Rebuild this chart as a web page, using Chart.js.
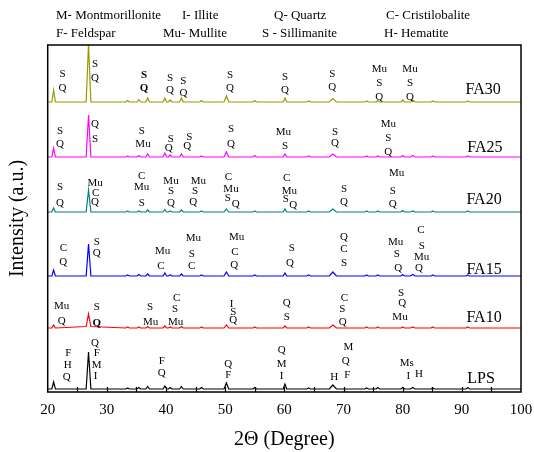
<!DOCTYPE html>
<html><head><meta charset="utf-8">
<script src="https://cdn.jsdelivr.net/npm/chart.js@4"></script>
<style>html,body{margin:0;padding:0;background:#fff}#wrap{width:534px;height:452px;position:relative}</style>
</head><body><div id="wrap"><canvas id="c" width="534" height="452"></canvas></div>
<script>
// 2-theta sampling points (degrees)
const twoTheta = [20.0,
  20.7,21.0,21.3,  26.5,26.9,27.3,  33.2,33.5,33.8,  35.1,35.4,35.7,  36.6,36.9,37.2,
  39.5,39.8,40.1,  40.4,40.7,41.0,  42.3,42.6,42.9,  45.7,46.0,46.3,  49.8,50.2,50.6,
  54.7,55.0,55.3,  59.8,60.1,60.4,  63.8,64.1,64.4,  67.6,68.2,68.8,  73.6,73.9,74.2,
  75.5,75.8,76.1,  79.7,80.0,80.3,  81.3,81.7,82.1,  84.8,85.1,85.4,  90.7,91.0,91.3,
  100.0];
// intensities (a.u.) above each pattern's own baseline
const FA30 = [0, 0,12,0, 0,58,0, 0,1.5,0, 0,2.5,0, 0,4,0, 0,4,0, 0,2,0, 0,4,0, 0,1.5,0, 0,6,0,
  0,1.5,0, 0,4,0, 0,1,0, 0,3.5,0, 0,1,0, 0,1.5,0, 0,2,0, 0,2,0, 0,1,0, 0,1,0, 0];
const FA25 = [0, 0,9,0, 0,42,0, 0,1,0, 0,1.5,0, 0,3,0, 0,4,0, 0,2,0, 0,3,0, 0,1,0, 0,5,0,
  0,1.5,0, 0,3,0, 0,1,0, 0,3,0, 0,1,0, 0,1,0, 0,1.5,0, 0,1.5,0, 0,1,0, 0,1,0, 0];
const FA20 = [0, 0,4,0, 0,22,0, 0,1,0, 0,1,0, 0,2,0, 0,2.5,0, 0,1,0, 0,2,0, 0,1,0, 0,3,0,
  0,1,0, 0,3,0, 0,1,0, 0,3,0, 0,1,0, 0,1,0, 0,1.5,0, 0,1,0, 0,1,0, 0,1,0, 0];
const FA15 = [0, 0,6,0, 0,32,0, 0,1,0, 0,1.5,0, 0,2,0, 0,3,0, 0,1,0, 0,2,0, 0,1,0, 0,4,0,
  0,1,0, 0,3,0, 0,1,0, 0,4,0, 0,1,0, 0,1,0, 0,1.5,0, 0,1.5,0, 0,1,0, 0,1,0, 0];
const FA10 = [0, 0,3,0, 1.5,14,1.5, 0,1,0, 0,1,0, 0,1.5,0, 0,2,0, 0,1,0, 0,1.5,0, 0,1,0, 0,3,0,
  0,1,0, 0,2,0, 0,1,0, 0,3,0, 0,1,0, 0,1,0, 0,1,0, 0,1,0, 0,1,0, 0,1,0, 0];
const LPS = [0, 0,7,0, 0,37,0, 0,1,0, 0,1.5,0, 0,2.5,0, 0,3,0, 0,1.5,0, 0,2.5,0, 0,1.5,0, 0,6,0,
  0,1.5,0, 0,5,0, 0,1,0, 0,4,0, 0,1,0, 0,1.5,0, 0,1.5,0, 0,1.5,0, 0,1,0, 0,1.5,0, 0];

const seriesNames = ['FA30','FA25','FA20','FA15','FA10','LPS'];
const seriesValues = [FA30, FA25, FA20, FA15, FA10, LPS];
const stackOffsets = [290, 235, 180, 116, 64, 3];
const seriesColors = ['#999900','#ff00ff','#008080','#0000ff','#ff0000','#000000'];

const xTickValues = [20,30,40,50,60,70,80,90,100];
const tickMarkValues = [25,30,35,40,45,50,55,60,65,70,75,80,85,90,95];

// key of mineral codes (two rows)
const keyRows = [
  ['M- Montmorillonite','I- Illite','Q- Quartz','C- Cristilobalite'],
  ['F- Feldspar','Mu- Mullite','S - Sillimanite','H- Hematite']
];

// series name labels [2theta, level, text]
const seriesLabels = [
  [93.6,302,'FA30'],[93.9,244,'FA25'],[93.75,192,'FA20'],[93.75,122,'FA15'],[93.75,74,'FA10'],[93.25,13,'LPS']
];

// peak phase labels [2theta, level, text, bold]
const peakLabels = [
  // FA30
  [22.5,317.7,'S'],[22.5,304.3,'Q'],
  [28.0,328,'S'],[28.0,313.7,'Q'],
  [36.3,317.3,'S',1],[36.3,303.7,'Q',1],
  [40.67,313.7,'S'],[40.67,302,'Q'],
  [42.93,311.3,'S'],[42.93,298.7,'Q'],
  [50.82,317,'S'],[50.82,303.7,'Q'],
  [60.11,314.7,'S'],[60.11,302,'Q'],
  [68.11,318,'S'],[68.11,305.3,'Q'],
  [76.05,322.7,'Mu'],[76.05,309.3,'S'],[76.05,295.3,'Q'],
  [81.24,322.7,'Mu'],[81.24,309.3,'S'],[81.24,294.7,'Q'],
  // FA25
  [22.08,261,'S'],[22.08,247.7,'Q'],
  [28.0,268,'Q'],[28.0,252.7,'S'],
  [35.89,261.3,'S'],[36.11,247.7,'Mu'],
  [40.79,252.7,'S'],[40.45,244.3,'Q'],
  [43.94,254.7,'S'],[43.6,246,'Q'],
  [50.98,262.7,'S'],[50.98,248,'Q'],
  [59.82,260.3,'Mu'],[60.11,245.5,'S'],
  [68.56,260.3,'S'],[68.56,248.7,'Q'],
  [77.57,268,'Mu'],[77.57,254.3,'S'],[77.57,240.3,'Q'],
  // FA20
  [22.08,205.3,'S'],[22.08,188.7,'Q'],
  [28.0,208.7,'Mu'],[28.11,198.7,'C'],[28.0,189.7,'Q'],
  [35.89,216.3,'C'],[35.89,204.7,'Mu'],[35.89,189.3,'S'],
  [40.84,211.3,'Mu'],[40.84,201.3,'S'],[40.84,189.3,'Q'],
  [45.46,211,'Mu'],[44.9,201,'S'],[44.61,190,'Q'],
  [50.53,215.3,'C'],[50.98,202.7,'Mu'],[50.43,193.7,'S'],[51.78,188,'Q'],
  [60.4,213.7,'C'],[60.84,201.3,'Mu'],[60.23,192.7,'S'],[61.51,187,'Q'],
  [70.08,202.7,'S'],[70.08,189.7,'Q'],
  [78.99,218.7,'Mu'],[78.32,201.3,'S'],[78.32,187.7,'Q'],
  // FA15
  [22.64,144.3,'C'],[22.64,130.3,'Q'],
  [28.28,150.3,'S'],[28.28,138.7,'Q'],
  [39.44,141,'Mu'],[39.15,126,'C'],
  [44.61,153.7,'Mu'],[44.34,138,'S'],[44.34,126,'C'],
  [51.95,155.3,'Mu'],[51.66,139.7,'C'],[51.54,127,'Q'],
  [61.24,144.3,'S'],[60.96,128.7,'Q'],
  [70.08,155.3,'Q'],[70.08,142.7,'C'],[70.08,128.7,'S'],
  [78.82,150.3,'Mu'],[78.99,137.7,'S'],[79.26,124.3,'Q'],
  [83.1,162,'C'],[83.22,146,'S'],[83.22,134.7,'Mu'],[82.76,123.7,'Q'],
  // FA10
  [22.37,86,'Mu'],[22.37,71.3,'Q'],
  [28.28,84.7,'S'],[28.28,69.3,'Q',1],
  [37.29,85.3,'S'],[37.41,70.3,'Mu'],
  [41.81,94.3,'C'],[41.52,83,'S'],[41.64,70.3,'Mu'],
  [51.1,88,'I'],[51.37,80,'S'],[51.37,72,'Q'],
  [60.4,88.7,'Q'],[60.4,75.3,'S'],
  [70.14,94.3,'C'],[69.8,82.7,'S'],[69.87,70.3,'Q'],
  [79.72,98.7,'S'],[79.94,88.7,'Q'],[79.55,75.3,'Mu'],
  // LPS
  [23.48,38.7,'F'],[23.38,27,'H'],[23.21,15.3,'Q'],
  [28.0,49.3,'Q'],[28.28,38.7,'F'],[28.28,27,'M'],[28.11,16,'I'],
  [39.27,31,'F'],[39.27,18.7,'Q'],
  [50.53,28,'Q'],[50.53,17,'F'],
  [59.55,42,'Q'],[59.55,28,'M'],[59.55,16,'I'],
  [68.44,14.7,'H'],
  [70.81,45.3,'M'],[70.37,31.3,'Q'],[70.64,17,'F'],
  [80.68,28.7,'Ms'],[80.95,16,'I'],[82.76,18,'H']
];

const SERIF = "'Liberation Serif','Times New Roman',serif";

const datasets = seriesNames.map((name, s) => ({
  label: name,
  data: twoTheta.map((t, i) => ({x: t, y: seriesValues[s][i] + stackOffsets[s]})),
  borderColor: seriesColors[s],
  borderWidth: 1.2,
  pointRadius: 0,
  tension: 0,
  fill: false
}));

const decorPlugin = {
  id: 'decor',
  afterDatasetsDraw(chart) {
    const {ctx, chartArea: a, scales: {x, y}} = chart;
    ctx.save();
    // frame
    ctx.strokeStyle = '#000';
    ctx.lineWidth = 1.5;
    ctx.strokeRect(a.left, a.top, a.right - a.left, a.bottom - a.top);
    // inward tick marks on bottom axis
    ctx.lineWidth = 1.2;
    ctx.beginPath();
    tickMarkValues.forEach(v => {
      const px = Math.round(x.getPixelForValue(v)) + 0.5;
      ctx.moveTo(px, a.bottom);
      ctx.lineTo(px, a.bottom - 5);
    });
    ctx.stroke();
    // peak labels
    ctx.fillStyle = '#000';
    ctx.textAlign = 'center';
    ctx.textBaseline = 'middle';
    peakLabels.forEach(([t, lv, txt, b]) => {
      ctx.font = (b ? 'bold ' : '') + '11px ' + SERIF;
      ctx.fillText(txt, x.getPixelForValue(t), y.getPixelForValue(lv));
    });
    ctx.font = '16px ' + SERIF;
    seriesLabels.forEach(([t, lv, txt]) => {
      ctx.fillText(txt, x.getPixelForValue(t), y.getPixelForValue(lv));
    });
    // key rows above the plot
    const colX = [[56,182,274,386],[56,163,262,384]];
    const rowY = [16,34];
    ctx.font = '13px ' + SERIF;
    ctx.textAlign = 'left';
    keyRows.forEach((row, r) => row.forEach((txt, c) => ctx.fillText(txt, colX[r][c], rowY[r])));
    ctx.restore();
  }
};

new Chart(document.getElementById('c'), {
  type: 'line',
  data: {datasets},
  options: {
    responsive: false,
    devicePixelRatio: 1,
    animation: false,
    layout: {padding: {top: 45, right: 13, bottom: 0, left: 0}},
    plugins: {legend: {display: false}, tooltip: {enabled: false}},
    scales: {
      x: {
        type: 'linear', min: 20, max: 100,
        afterBuildTicks: s => { s.ticks = xTickValues.map(v => ({value: v})); },
        ticks: {color: '#000', padding: 0, font: {family: SERIF, size: 15}},
        grid: {display: false, drawTicks: true, tickLength: 9, tickColor: 'rgba(0,0,0,0)'},
        border: {display: false},
        title: {display: true, text: '2\u0398 (Degree)', color: '#000',
                font: {family: SERIF, size: 20}, padding: {top: 9, bottom: 0}}
      },
      y: {
        type: 'linear', min: 0, max: 347,
        ticks: {display: false},
        grid: {display: false, drawTicks: false},
        border: {display: false},
        title: {display: true, text: 'Intensity (a.u.)', color: '#000',
                font: {family: SERIF, size: 20}, padding: {top: 6, bottom: 17.7}}
      }
    }
  },
  plugins: [decorPlugin]
});
</script></body></html>
